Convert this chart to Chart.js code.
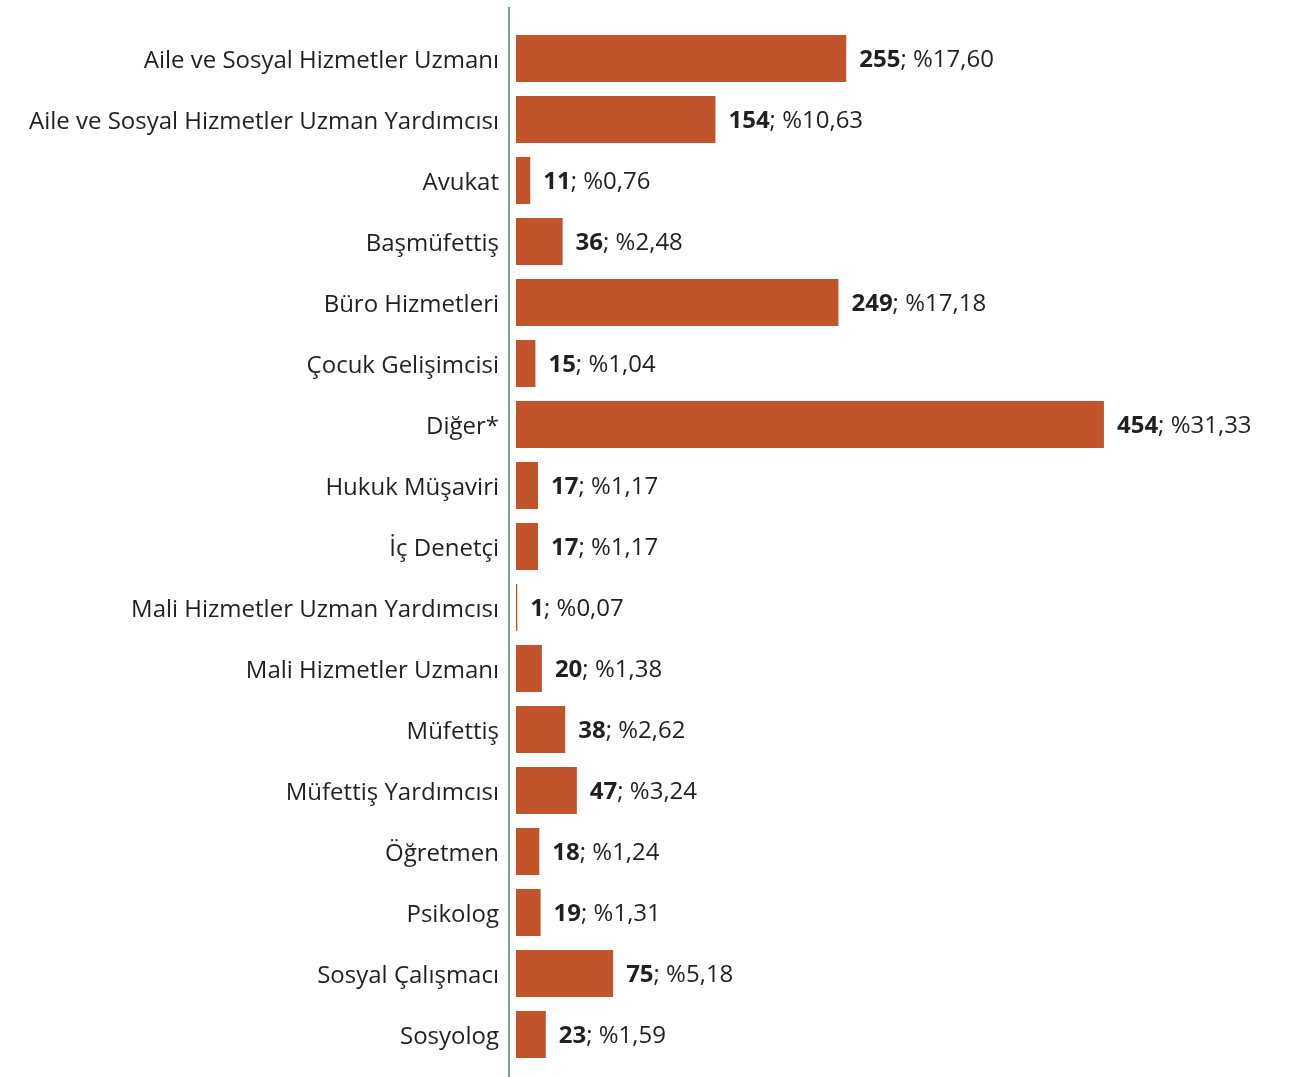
<!DOCTYPE html>
<html>
<head>
<meta charset="utf-8">
<script src="https://cdn.jsdelivr.net/npm/chart.js@4.4.0/dist/chart.umd.min.js"></script>
<style>
  html, body { margin: 0; padding: 0; background: #fff; }
  #wrap { width: 1310px; height: 1077px; position: relative; }
</style>
</head>
<body>
<div id="wrap"><canvas id="chart"></canvas></div>
<script>
// Kadro/unvan dağılımı
const categories = [
    'Aile ve Sosyal Hizmetler Uzmanı',
    'Aile ve Sosyal Hizmetler Uzman Yardımcısı',
    'Avukat',
    'Başmüfettiş',
    'Büro Hizmetleri',
    'Çocuk Gelişimcisi',
    'Diğer*',
    'Hukuk Müşaviri',
    'İç Denetçi',
    'Mali Hizmetler Uzman Yardımcısı',
    'Mali Hizmetler Uzmanı',
    'Müfettiş',
    'Müfettiş Yardımcısı',
    'Öğretmen',
    'Psikolog',
    'Sosyal Çalışmacı',
    'Sosyolog'
];
const counts = [255, 154, 11, 36, 249, 15, 454, 17, 17, 1, 20, 38, 47, 18, 19, 75, 23];
const percents = ['17,60', '10,63', '0,76', '2,48', '17,18', '1,04', '31,33', '1,17', '1,17', '0,07', '1,38', '2,62', '3,24', '1,24', '1,31', '5,18', '1,59'];

const FONT = '"Open Sans", "Noto Sans", sans-serif';
const TEXT = '#231f20';

// eksen çizgisi (grafik alanının biraz solunda, tam yükseklikte)
const axisLine = {
    id: 'axisLine',
    afterDraw(chart) {
        const c = chart.ctx;
        const x = chart.scales.x.getPixelForValue(0) - 7;
        c.save();
        c.strokeStyle = '#4e8a5c';
        c.lineWidth = 1.5;
        c.beginPath();
        c.moveTo(x, 7);
        c.lineTo(x, chart.height);
        c.stroke();
        c.restore();
    }
};

// "255; %17,60" etiketleri
const valueLabels = {
    id: 'valueLabels',
    afterDatasetsDraw(chart) {
        const c = chart.ctx;
        const meta = chart.getDatasetMeta(0);
        c.save();
        c.textBaseline = 'middle';
        c.fillStyle = TEXT;
        meta.data.forEach((bar, i) => {
            let x = bar.x + 13;
            const y = bar.y + 2;
            c.font = 'bold 24px ' + FONT;
            const num = String(counts[i]);
            c.fillText(num, x, y);
            x += c.measureText(num).width;
            c.font = '24px ' + FONT;
            c.fillText('; %' + percents[i], x, y);
        });
        c.restore();
    }
};

const ctx = document.getElementById('chart').getContext('2d');
new Chart(ctx, {
    type: 'bar',
    data: {
        labels: categories,
        datasets: [{
            data: counts,
            backgroundColor: '#c1542a',
            borderWidth: 0,
            categoryPercentage: 1,
            barPercentage: 0.77
        }]
    },
    options: {
        indexAxis: 'y',
        responsive: true,
        maintainAspectRatio: false,
        animation: false,
        layout: {
            padding: { top: 28, bottom: 12, left: 0, right: 17 }
        },
        plugins: {
            legend: { display: false },
            tooltip: { enabled: false }
        },
        scales: {
            x: {
                display: false,
                min: 0,
                max: 600
            },
            y: {
                grid: { display: false, drawTicks: false },
                border: { display: false },
                afterFit(scale) {
                    scale.width = 516;
                    scale.paddingTop = 0;
                    scale.paddingBottom = 0;
                },
                ticks: {
                    color: TEXT,
                    padding: 17,
                    labelOffset: 3,
                    font: { family: FONT, size: 24 }
                }
            }
        }
    },
    plugins: [axisLine, valueLabels]
});
</script>
</body>
</html>
